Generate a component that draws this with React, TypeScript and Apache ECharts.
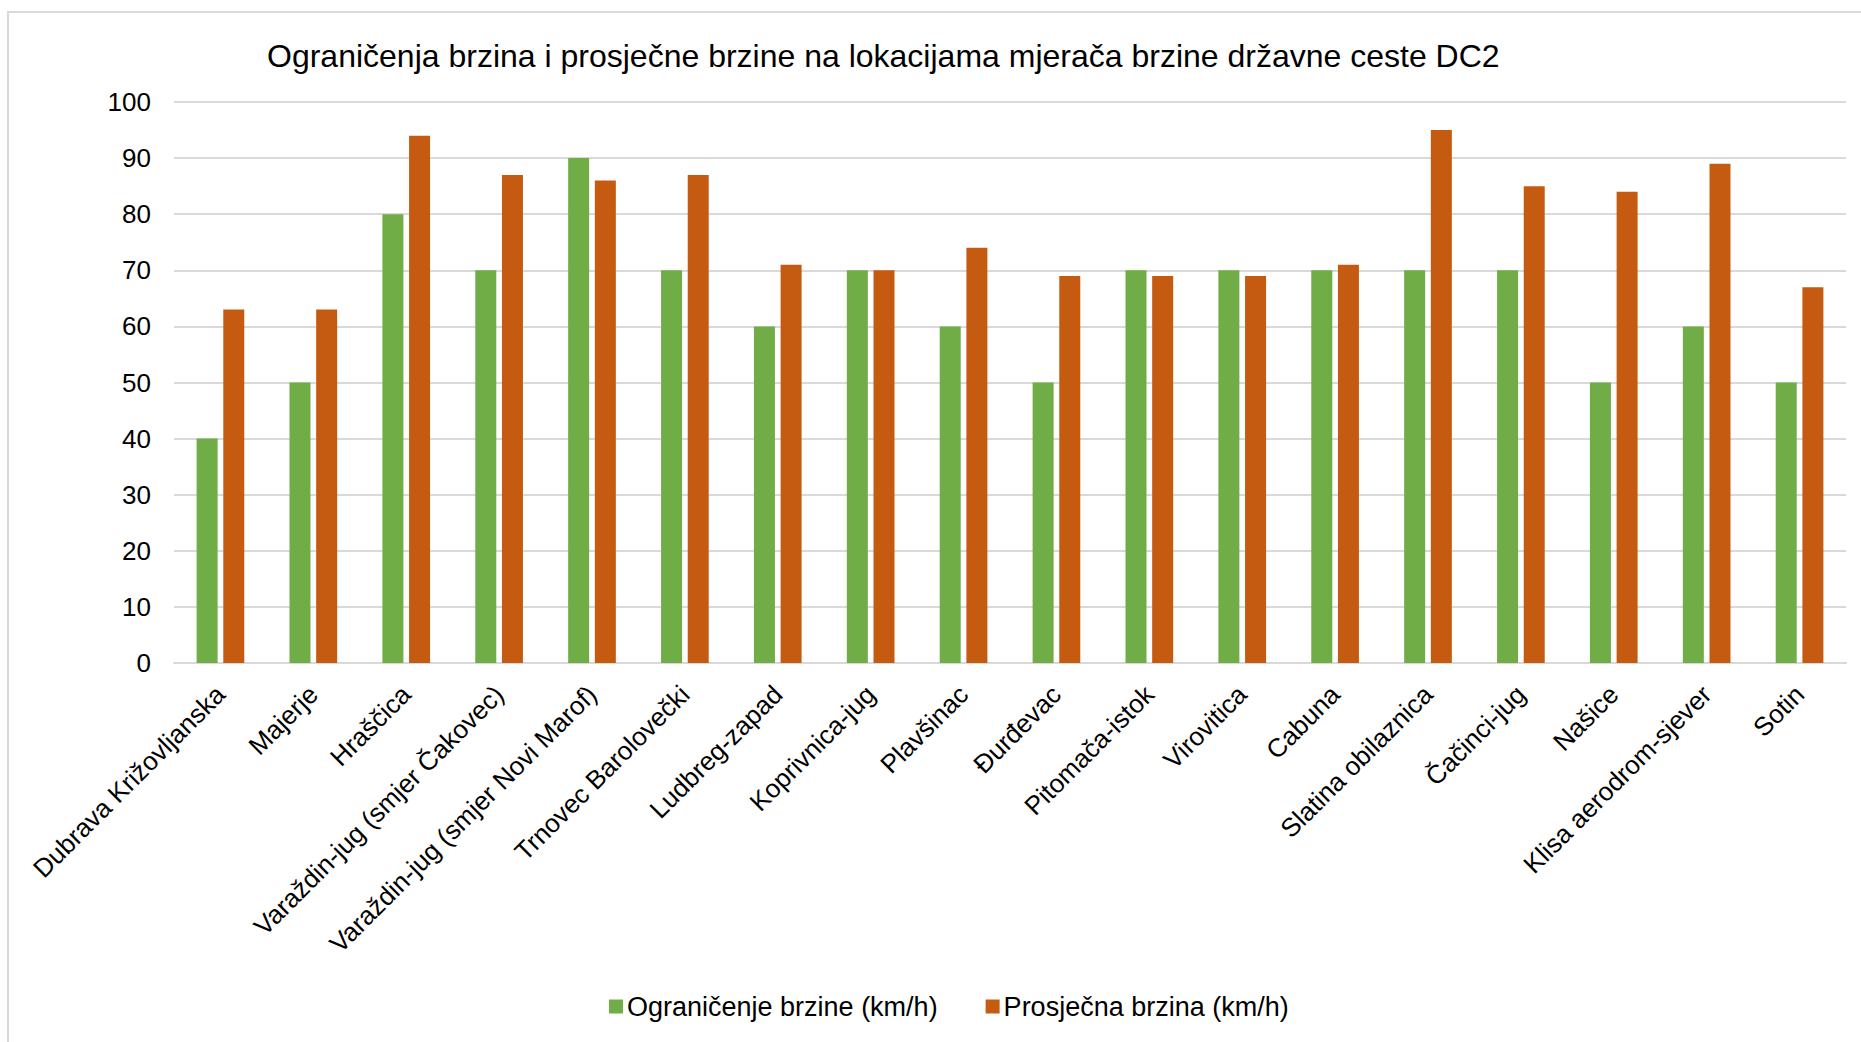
import React, { useEffect, useRef } from "react";
import * as echarts from "echarts";

const titleText =
  "Ograničenja brzina i prosječne brzine na lokacijama mjerača brzine državne ceste DC2";

const categories = [
  "Dubrava Križovljanska",
  "Majerje",
  "Hraščica",
  "Varaždin-jug (smjer Čakovec)",
  "Varaždin-jug (smjer Novi Marof)",
  "Trnovec Barolovečki",
  "Ludbreg-zapad",
  "Koprivnica-jug",
  "Plavšinac",
  "Đurđevac",
  "Pitomača-istok",
  "Virovitica",
  "Cabuna",
  "Slatina obilaznica",
  "Čačinci-jug",
  "Našice",
  "Klisa aerodrom-sjever",
  "Sotin",
];

const seriesNames = ["Ograničenje brzine (km/h)", "Prosječna brzina (km/h)"];

const speedLimit = [40, 50, 80, 70, 90, 70, 60, 70, 60, 50, 70, 70, 70, 70, 70, 50, 60, 50];
const averageSpeed = [63, 63, 94, 87, 86, 87, 71, 70, 74, 69, 69, 69, 71, 95, 85, 84, 89, 67];

const yMin = 0;
const yMax = 100;
const yInterval = 10;

const FONT = "Liberation Sans, Arial, sans-serif";

export default function App() {
  const ref = useRef<HTMLDivElement>(null);

  useEffect(() => {
    if (!ref.current) return;
    const chart = echarts.init(ref.current, undefined, { renderer: "svg" });
    chart.setOption({
      animation: false,
      backgroundColor: "#ffffff",
      textStyle: { fontFamily: FONT },
      graphic: [
        {
          type: "rect",
          shape: { x: 8, y: 12, width: 1900, height: 1100 },
          style: { fill: "none", stroke: "#d9d9d9", lineWidth: 2 },
          silent: true,
        },
      ],
      title: {
        text: titleText,
        left: 267,
        top: 40,
        padding: 0,
        textStyle: { fontFamily: FONT, fontSize: 32, fontWeight: "normal", color: "#000000" },
      },
      legend: {
        data: seriesNames,
        left: 609,
        top: 993,
        padding: 0,
        itemWidth: 14,
        itemHeight: 14,
        itemGap: 48,
        icon: "rect",
        textStyle: { fontFamily: FONT, fontSize: 27, color: "#000000", padding: [0, 0, 0, -1] },
      },
      grid: { left: 174, right: 15, top: 102, bottom: 379, containLabel: false },
      xAxis: {
        type: "category",
        data: categories,
        axisLine: { show: true, lineStyle: { color: "#d9d9d9", width: 2 } },
        axisTick: { show: false },
        axisLabel: {
          interval: 0,
          rotate: 45,
          margin: 27,
          fontFamily: FONT,
          fontSize: 26,
          color: "#000000",
        },
      },
      yAxis: {
        type: "value",
        min: yMin,
        max: yMax,
        interval: yInterval,
        axisLine: { show: false },
        axisTick: { show: false },
        splitLine: { show: true, lineStyle: { color: "#d9d9d9", width: 2 } },
        axisLabel: { fontFamily: FONT, fontSize: 26, color: "#000000", margin: 23 },
      },
      series: [
        {
          name: seriesNames[0],
          type: "bar",
          data: speedLimit,
          barWidth: 21,
          barGap: "27%",
          itemStyle: { color: "#70ad47" },
        },
        {
          name: seriesNames[1],
          type: "bar",
          data: averageSpeed,
          barWidth: 21,
          itemStyle: { color: "#c55a11" },
        },
      ],
    });
    return () => chart.dispose();
  }, []);

  return (
    <div
      ref={ref}
      style={{ position: "absolute", left: 0, top: 0, width: 1861, height: 1042 }}
    />
  );
}
